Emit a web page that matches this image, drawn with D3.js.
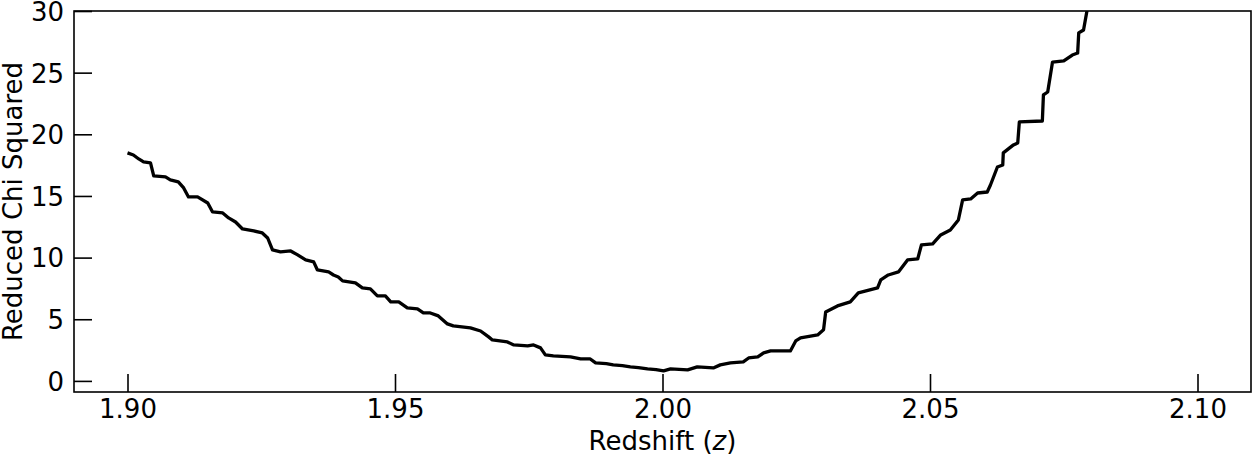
<!DOCTYPE html>
<html>
<head>
<meta charset="utf-8">
<script src="https://cdn.jsdelivr.net/npm/d3@7"></script>
<style>
  html, body { margin: 0; padding: 0; background: #fff; }
  svg { display: block; }
  text { font-family: "DejaVu Sans", sans-serif; fill: #000; }
</style>
</head>
<body>
<svg id="chart" width="1254" height="457"></svg>
<script>
// ---- data ----
const redshift = [
  1.9000, 1.9011, 1.9021, 1.9030, 1.9043, 1.9049, 1.9071, 1.9080, 1.9095, 1.9105,
  1.9114, 1.9131, 1.9150, 1.9159, 1.9178, 1.9189, 1.9202, 1.9215, 1.9236, 1.9252,
  1.9262, 1.9271, 1.9286, 1.9305, 1.9318, 1.9333, 1.9348, 1.9355, 1.9376, 1.9385,
  1.9394, 1.9402, 1.9426, 1.9439, 1.9454, 1.9467, 1.9482, 1.9492, 1.9507, 1.9523,
  1.9542, 1.9553, 1.9566, 1.9581, 1.9598, 1.9609, 1.9641, 1.9660, 1.9675, 1.9682,
  1.9710, 1.9722, 1.9748, 1.9759, 1.9772, 1.9781, 1.9796, 1.9828, 1.9847, 1.9865,
  1.9875, 1.9895, 1.9908, 1.9925, 1.9940, 1.9955, 1.9972, 1.9988, 2.0002, 2.0015,
  2.0047, 2.0065, 2.0095, 2.0108,
  2.0127, 2.0151, 2.0161, 2.0178, 2.0189, 2.0202, 2.0239, 2.0249, 2.0258, 2.0290,
  2.0301, 2.0305, 2.0327, 2.0351, 2.0366, 2.0402, 2.0408, 2.0422, 2.0441, 2.0458,
  2.0477, 2.0484, 2.0505, 2.0520, 2.0538, 2.0553, 2.0561, 2.0576, 2.0589, 2.0607,
  2.0613, 2.0626, 2.0636, 2.0637, 2.0656, 2.0664, 2.0667, 2.0710, 2.0712, 2.0720,
  2.0729, 2.0750, 2.0766, 2.0776, 2.0778, 2.0787, 2.0793, 2.0796
];
const chiSquared = [
  18.49, 18.32, 18.00, 17.76, 17.68, 16.62, 16.54, 16.30, 16.14, 15.65,
  14.92, 14.92, 14.43, 13.70, 13.62, 13.22, 12.89, 12.32, 12.16, 12.00,
  11.59, 10.62, 10.46, 10.54, 10.22, 9.81, 9.65, 9.00, 8.84, 8.59,
  8.43, 8.11, 7.95, 7.54, 7.46, 6.89, 6.89, 6.41, 6.41, 5.92,
  5.84, 5.51, 5.51, 5.27, 4.62, 4.46, 4.30, 4.05, 3.57, 3.32,
  3.16, 2.92, 2.84, 2.92, 2.68, 2.11, 2.03, 1.95, 1.78, 1.78,
  1.46, 1.40, 1.30, 1.24, 1.14, 1.08, 0.97, 0.92, 0.81, 0.97,
  0.89, 1.14, 1.05, 1.30,
  1.46, 1.54, 1.86, 1.95, 2.27, 2.43, 2.43, 3.24, 3.49, 3.73,
  4.14, 5.59, 6.08, 6.41, 7.14, 7.54, 8.19, 8.59, 8.84, 9.81,
  9.89, 11.03, 11.11, 11.84, 12.24, 13.05, 14.68, 14.76, 15.24, 15.32,
  15.89, 17.35, 17.51, 18.49, 19.14, 19.30, 21.00, 21.08, 23.19, 23.43,
  25.86, 25.95, 26.43, 26.59, 28.22, 28.46, 29.92, 31.0
];
const xTicks = [1.90, 1.95, 2.00, 2.05, 2.10];
const xTickLabels = ["1.90", "1.95", "2.00", "2.05", "2.10"];
const yTicks = [0, 5, 10, 15, 20, 25, 30];
const yTickLabels = ["0", "5", "10", "15", "20", "25", "30"];
const xDomain = [1.89, 2.11];
const yDomain = [-0.9, 30];

// ---- layout ----
const mLeft = 74, mRight = 1251, mTop = 11, mBottom = 392;
const svg = d3.select("#chart");
const x = d3.scaleLinear().domain(xDomain).range([mLeft, mRight]);
const y = d3.scaleLinear().domain(yDomain).range([mBottom, mTop]);

svg.append("defs").append("clipPath").attr("id", "plotclip")
  .append("rect").attr("x", mLeft).attr("y", mTop)
  .attr("width", mRight - mLeft).attr("height", mBottom - mTop);

const pts = redshift.map((z, i) => [z, chiSquared[i]]);
const line = d3.line().x(d => x(d[0])).y(d => y(d[1]));

svg.append("path")
  .datum(pts)
  .attr("clip-path", "url(#plotclip)")
  .attr("d", line)
  .attr("fill", "none")
  .attr("stroke", "#000")
  .attr("stroke-width", 3.3)
  .attr("stroke-linejoin", "round")
  .attr("stroke-linecap", "butt");

// axes with inward ticks
const fontSize = 26;
const xAxis = d3.axisBottom(x).tickValues(xTicks)
  .tickFormat((d, i) => xTickLabels[i]).tickSizeInner(-18).tickSizeOuter(0).tickPadding(8);
const yAxis = d3.axisLeft(y).tickValues(yTicks)
  .tickFormat((d, i) => yTickLabels[i]).tickSizeInner(-18).tickSizeOuter(0).tickPadding(10);

const gx = svg.append("g").attr("transform", `translate(0,${mBottom})`).call(xAxis);
const gy = svg.append("g").attr("transform", `translate(${mLeft},0)`).call(yAxis);
[gx, gy].forEach(g => {
  g.select(".domain").remove();
  g.selectAll(".tick line").attr("stroke", "#000").attr("stroke-width", 1.6);
  g.selectAll(".tick text").attr("font-size", fontSize)
    .attr("font-family", "DejaVu Sans, sans-serif").attr("fill", "#000");
});
gy.selectAll(".tick text").attr("dy", "0.36em");

// frame
svg.append("rect").attr("x", mLeft).attr("y", mTop)
  .attr("width", mRight - mLeft).attr("height", mBottom - mTop)
  .attr("fill", "none").attr("stroke", "#000").attr("stroke-width", 1.6);

// axis labels
const xl = svg.append("text").attr("x", (mLeft + mRight) / 2)
  .attr("y", 450).attr("text-anchor", "middle").attr("font-size", fontSize);
xl.append("tspan").text("Redshift (");
xl.append("tspan").attr("font-style", "italic").text("z");
xl.append("tspan").text(")");

svg.append("text")
  .attr("transform", `translate(22,${(mTop + mBottom) / 2}) rotate(-90)`)
  .attr("text-anchor", "middle").attr("font-size", fontSize)
  .text("Reduced Chi Squared");
</script>
</body>
</html>
